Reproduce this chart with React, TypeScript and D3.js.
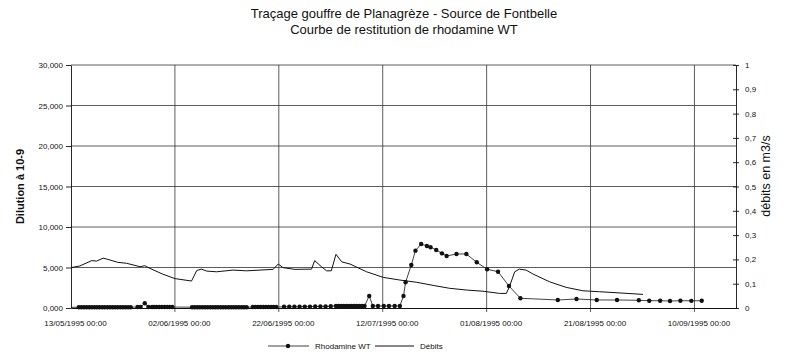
import { useEffect, useRef } from "react";
import * as d3 from "d3";

// dates are kept as day offsets from 13/05/1995 00:00
const START = new Date(1995, 4, 13);
const END = new Date(1995, 8, 18);

const xTickDays = [0, 20, 40, 60, 80, 100, 120];
const leftTicks = [0, 5, 10, 15, 20, 25, 30];
const rightTicks = [0, 0.1, 0.2, 0.3, 0.4, 0.5, 0.6, 0.7, 0.8, 0.9, 1];

const rhodDays = [
  0,
  1.5, 2, 2.5, 3, 3.5, 4, 4.5, 5, 5.5, 6, 6.5, 7, 7.5, 8, 8.5, 9, 9.5, 10, 10.5, 11, 11.5,
  12.8, 13.4, 14.2, 14.9,
  15.6, 16, 16.5, 17, 17.5, 18, 18.5, 19, 19.5,
  23.3, 23.8, 24.3, 24.8, 25.3, 25.8, 26.3, 26.8, 27.3, 27.8, 28.3, 28.8, 29.3, 29.8, 30.3, 30.8, 31.3, 31.8, 32.3, 32.8, 33.3, 33.8,
  35, 35.5, 36, 36.5, 37, 37.5, 38, 38.5, 39, 39.5,
  41, 42, 43, 44, 45, 46, 47, 48, 49, 50,
  51, 51.5, 52, 52.5, 53, 53.5, 54, 54.5, 55, 55.5, 56, 56.5,
  57.4, 58.1, 59.1, 60.2, 61.2, 62.3, 63.3,
  64.0, 64.4, 65.5, 66.3, 67.4, 68.5, 69.2, 70.3, 71.4, 72.3, 74.2, 76.1, 78.1, 80.1, 82.2, 84.3, 86.5,
  93.7, 97.3, 101.2, 105.1, 109.3, 111.3, 113.4, 115.3, 117.3, 119.4, 121.4,
];
// dilution (x 10-9)
const rhodValues = [
  0.08,
  0.1, 0.1, 0.1, 0.1, 0.1, 0.1, 0.1, 0.1, 0.1, 0.1, 0.1, 0.1, 0.1, 0.1, 0.1, 0.1, 0.1, 0.1, 0.1, 0.1, 0.1,
  0.12, 0.12, 0.58, 0.12,
  0.12, 0.12, 0.12, 0.12, 0.12, 0.12, 0.12, 0.12, 0.12,
  0.1, 0.1, 0.1, 0.1, 0.1, 0.1, 0.1, 0.1, 0.1, 0.1, 0.1, 0.1, 0.1, 0.1, 0.1, 0.1, 0.1, 0.1, 0.1, 0.1, 0.1, 0.1,
  0.12, 0.12, 0.12, 0.12, 0.12, 0.12, 0.12, 0.12, 0.12, 0.12,
  0.15, 0.15, 0.16, 0.16, 0.17, 0.17, 0.18, 0.2, 0.2, 0.22,
  0.25, 0.25, 0.25, 0.25, 0.25, 0.25, 0.25, 0.25, 0.25, 0.25, 0.25, 0.25,
  1.48, 0.25, 0.25, 0.25, 0.25, 0.25, 0.25,
  1.48, 3.17, 5.31, 7.08, 7.9, 7.66, 7.5, 7.16, 6.75, 6.42, 6.67, 6.67, 5.64, 4.78, 4.48, 2.72, 1.2,
  0.99, 1.11, 0.99, 0.99, 0.95, 0.9, 0.9, 0.86, 0.9, 0.88, 0.9,
];

const debDays = [
  0, 1.7, 4.0, 4.9, 6.2, 7.1, 9.0, 10.7, 13.3, 14.2, 15.2, 17.7, 20, 23.2, 24.2, 25.1, 26.1, 28, 31.2, 33.8,
  38.9, 39.9, 40.8, 43.1, 46.3, 46.9, 48.2, 49.2, 50.1, 51, 52.1, 53.7, 56.9, 60.1, 63.3, 66.5, 69.7, 72.9,
  76.1, 79.3, 82.5, 83.8, 84.4, 85.4, 86.3, 87.6, 88.9, 92.1, 95.3, 98.5, 101.7, 104.9, 110.1,
];
const debValues = [
  0.166, 0.173, 0.195, 0.193, 0.205, 0.2, 0.188, 0.184, 0.17, 0.174, 0.163, 0.139, 0.121, 0.111, 0.154, 0.16, 0.152, 0.149, 0.156, 0.153,
  0.159, 0.181, 0.166, 0.159, 0.16, 0.195, 0.17, 0.153, 0.153, 0.221, 0.19, 0.181, 0.149, 0.126, 0.115, 0.106, 0.093, 0.081,
  0.074, 0.069, 0.06, 0.06, 0.088, 0.149, 0.16, 0.156, 0.14, 0.108, 0.085, 0.071, 0.067, 0.063, 0.056,
];

const dayToDate = (d: number) => new Date(START.getTime() + d * 864e5);
const FONT = "'Liberation Sans', Arial, sans-serif";
const INK = "#111";

export default function App() {
  const svgRef = useRef<SVGSVGElement | null>(null);

  useEffect(() => {
    const width = 787;
    const height = 361;
    const margin = { top: 65, right: 51, bottom: 53, left: 71 };
    const svg = d3.select(svgRef.current);
    svg.selectAll("*").remove();
    svg.attr("viewBox", `0 0 ${width} ${height}`);

    const x = d3.scaleTime().domain([START, END]).range([margin.left, width - margin.right]);
    const yL = d3.scaleLinear().domain([0, 30]).range([height - margin.bottom, margin.top]);
    const yR = d3.scaleLinear().domain([0, 1]).range([height - margin.bottom, margin.top]);
    const x0 = margin.left, x1 = width - margin.right;
    const yb = height - margin.bottom, yt = margin.top;

    // grid
    const grid = svg.append("g").attr("stroke", "#333").attr("stroke-width", 0.8);
    grid.selectAll("line.h").data(leftTicks.slice(1)).enter().append("line")
      .attr("x1", x0).attr("x2", x1).attr("y1", (d) => yL(d)).attr("y2", (d) => yL(d));
    grid.selectAll("line.v").data(xTickDays.slice(1)).enter().append("line")
      .attr("x1", (d) => x(dayToDate(d))).attr("x2", (d) => x(dayToDate(d)))
      .attr("y1", yt).attr("y2", yb + 4);

    // left axis
    const fmtL = (v: number) => d3.format(".3f")(v).replace(".", ",");
    const gl = svg.append("g").attr("transform", `translate(${x0},0)`)
      .call(d3.axisLeft(yL).tickValues(leftTicks).tickSize(5).tickSizeOuter(0).tickFormat((d) => fmtL(+d)));
    gl.selectAll("path,line").attr("stroke", INK).attr("stroke-width", 0.9);
    gl.selectAll("text").attr("font-family", FONT).attr("font-size", 8).attr("fill", INK).attr("x", -8);

    // right axis
    const fmtR = (v: number) => d3.format("~g")(v).replace(".", ",");
    const gr = svg.append("g").attr("transform", `translate(${x1},0)`)
      .call(d3.axisRight(yR).tickValues(rightTicks).tickSize(3).tickSizeOuter(0).tickFormat((d) => fmtR(+d)));
    gr.selectAll("path,line").attr("stroke", INK).attr("stroke-width", 0.9);
    gr.selectAll(".tick line").attr("x1", -3);
    gr.selectAll("text").attr("font-family", FONT).attr("font-size", 8).attr("fill", INK).attr("x", 9);

    // bottom axis
    const gb = svg.append("g").attr("transform", `translate(0,${yb})`)
      .call(d3.axisBottom(x).tickValues(xTickDays.map(dayToDate)).tickSize(0).tickSizeOuter(0)
        .tickFormat((d) => d3.timeFormat("%d/%m/%Y %H:%M")(d as Date)));
    gb.selectAll("path").attr("stroke", INK).attr("stroke-width", 1);
    gb.selectAll("text").attr("font-family", FONT).attr("font-size", 8).attr("fill", INK).attr("dy", "1.9em").attr("dx", 4);

    // débits line
    const debLine = d3.line<number>().x((d) => x(dayToDate(d))).y((_, i) => yR(debValues[i]));
    svg.append("path").attr("d", debLine(debDays)).attr("fill", "none").attr("stroke", INK).attr("stroke-width", 1);

    // rhodamine line + markers
    const rhLine = d3.line<number>().x((d) => x(dayToDate(d))).y((_, i) => yL(rhodValues[i]));
    svg.append("path").attr("d", rhLine(rhodDays)).attr("fill", "none").attr("stroke", INK).attr("stroke-width", 0.8);
    svg.append("g").selectAll("circle").data(rhodDays.slice(1)).enter().append("circle")
      .attr("cx", (d) => x(dayToDate(d))).attr("cy", (_, i) => yL(rhodValues[i + 1]))
      .attr("r", 2.2).attr("fill", INK);

    // titles
    const title = svg.append("g").attr("font-family", FONT).attr("fill", INK).attr("text-anchor", "middle");
    title.append("text").attr("x", 404).attr("y", 18).attr("font-size", 13).text("Traçage gouffre de Planagrèze - Source de Fontbelle");
    title.append("text").attr("x", 404).attr("y", 34).attr("font-size", 13).text("Courbe de restitution de rhodamine WT");

    svg.append("text").attr("transform", `translate(24,${(yt + yb) / 2}) rotate(-90)`)
      .attr("text-anchor", "middle").attr("font-family", FONT).attr("font-size", 11).attr("font-weight", "bold")
      .attr("fill", INK).text("Dilution à 10-9");
    svg.append("text").attr("transform", `translate(770,176) rotate(-90)`)
      .attr("text-anchor", "middle").attr("font-family", FONT).attr("font-size", 12.5)
      .attr("fill", INK).text("débits en m3/s");

    // legend
    const lg = svg.append("g").attr("font-family", FONT).attr("font-size", 8).attr("fill", INK);
    const ly = 346;
    lg.append("line").attr("x1", 268).attr("x2", 309).attr("y1", ly).attr("y2", ly).attr("stroke", INK).attr("stroke-width", 0.8);
    lg.append("circle").attr("cx", 288).attr("cy", ly).attr("r", 2.2).attr("fill", INK);
    lg.append("text").attr("x", 315).attr("y", ly + 3).text("Rhodamine WT");
    lg.append("line").attr("x1", 375).attr("x2", 414).attr("y1", ly).attr("y2", ly).attr("stroke", INK).attr("stroke-width", 1);
    lg.append("text").attr("x", 420).attr("y", ly + 3).text("Débits");
  }, []);

  return (
    <svg
      ref={svgRef}
      width={787}
      height={361}
      style={{ position: "absolute", left: 0, top: 0, background: "#fff" }}
    />
  );
}
